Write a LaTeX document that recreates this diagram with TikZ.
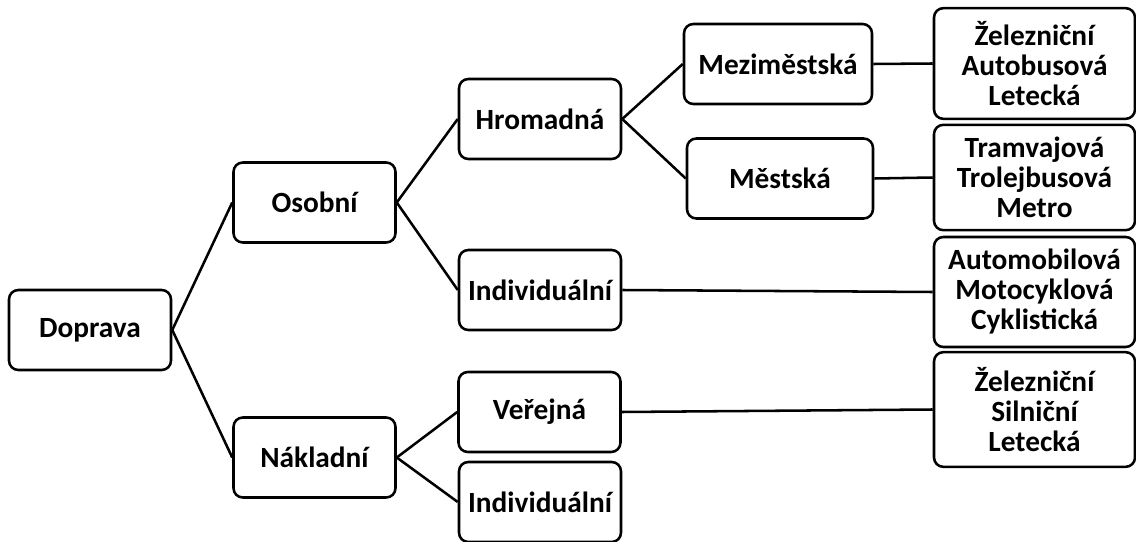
\documentclass[tikz,border=0pt]{standalone}
\usepackage{fontspec}
\setmainfont{Carlito}
\usepackage{tikz}
\usetikzlibrary{calc}

\tikzset{
  box/.style={draw, line width=1.9pt, rounded corners=7pt, inner sep=0pt,
    align=center, font=\fontsize{22}{22.5}\selectfont\bfseries,
    minimum width=121.5pt, minimum height=60pt},
  leaf/.style={box, minimum width=150.75pt},
  link/.style={line width=1.9pt}
}

\begin{document}
\begin{tikzpicture}[x=0.75pt,y=-0.75pt]
  \useasboundingbox (0,0) rectangle (1136,542);

  %% Levels of the tree
  \node[box] (DOP) at (90,330)    {Doprava};
  \node[box] (OSO) at (314.5,202.5) {Osobní};
  \node[box] (NAK) at (314.5,457.5) {Nákladní};
  \node[box] (HRO) at (540,119)   {Hromadná};
  \node[box] (IND1) at (540,290)  {Individuální};
  \node[box] (VER) at (539.5,412) {Veřejná};
  \node[box] (IND2) at (540,502)  {Individuální};
  \node[box, minimum width=141pt] (MEZ) at (778,64) {Meziměstská};
  \node[box, minimum width=139.5pt] (MES) at (780,178.5) {Městská};

  %% Kinds of transport
  \node[leaf, minimum height=83pt] (ZEL) at (1034.5,63.5) {Železniční\\Autobusová\\Letecká};
  \node[leaf, minimum height=79pt] (TRA) at (1034.5,177.5) {Tramvajová\\Trolejbusová\\Metro};
  \node[leaf, minimum height=82.5pt] (AUT) at (1034.5,292) {Automobilová\\Motocyklová\\Cyklistická};
  \node[leaf, minimum height=86pt] (ZSL) at (1034.5,409.5) {Železniční\\Silniční\\Letecká};

  %% Connecting lines
  \foreach \a/\b in {DOP/OSO,DOP/NAK,OSO/HRO,OSO/IND1,NAK/VER,NAK/IND2,
                     HRO/MEZ,HRO/MES,MEZ/ZEL,MES/TRA,IND1/AUT,VER/ZSL}
  {
    \draw[link] (\a.east) -- (\b.west);
  }
\end{tikzpicture}
\end{document}
